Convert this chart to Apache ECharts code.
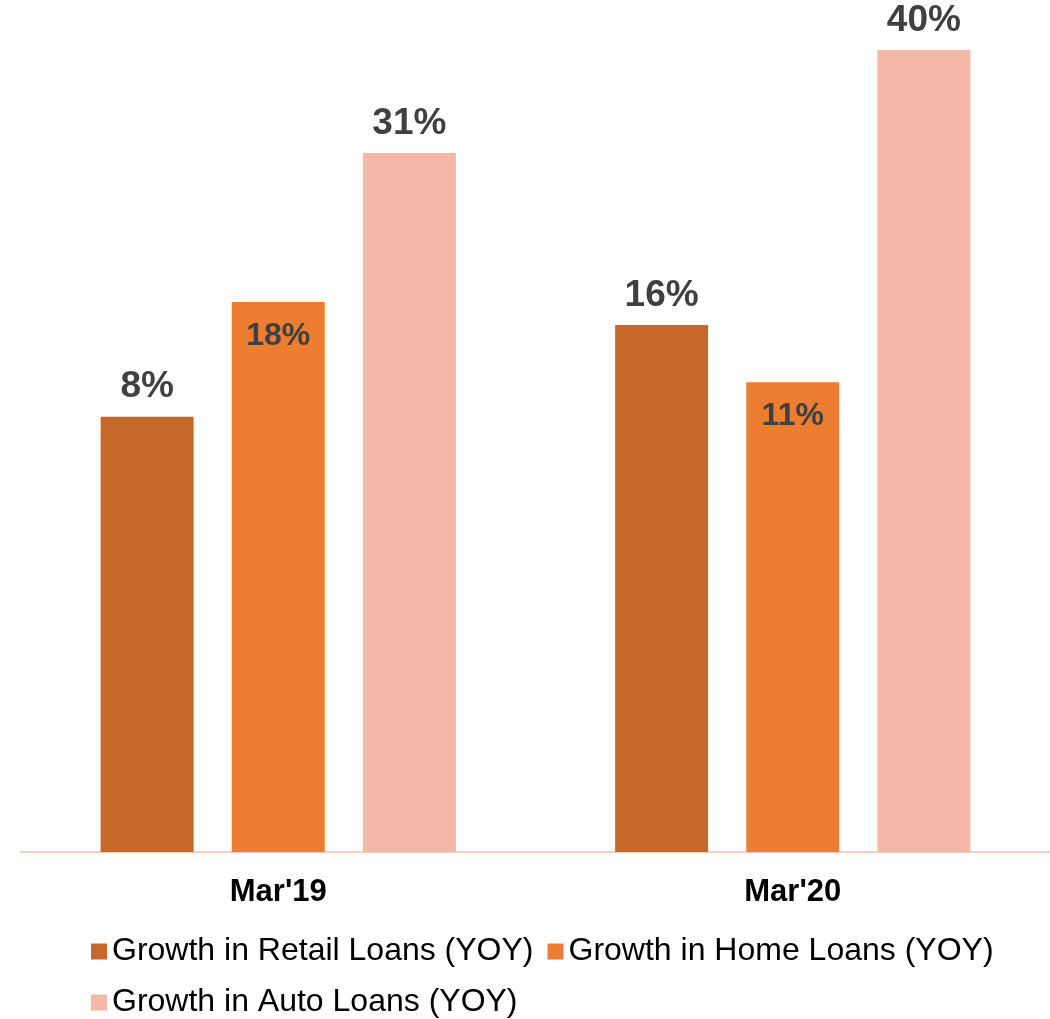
<!DOCTYPE html>
<html>
<head>
<meta charset="utf-8">
<script src="https://cdn.jsdelivr.net/npm/echarts@6/dist/echarts.min.js"></script>
<style>
html, body { margin: 0; padding: 0; background: #fff; }
#main { width: 1050px; height: 1019px; }
</style>
</head>
<body>
<div id="main"></div>
<script>
// categories and series values (%)
let categories = ["Mar'19", "Mar'20"];
let retailGrowth = [8, 16];
let homeGrowth = [18, 11];
let autoGrowth = [31, 40];

let seriesNames = [
    'Growth in Retail Loans (YOY)',
    'Growth in Home Loans (YOY)',
    'Growth in Auto Loans (YOY)'
];

let font = '"Liberation Sans", Arial, sans-serif';

let myChart,
option = {
    color: ['#C5682A', '#ED7D31', '#F4B8A6'],
    animation: false,
    grid: {
        left: 21,
        right: 0,
        top: 50,
        bottom: 167,
        outerBoundsMode: 'none'
    },
    legend: {
        left: 91,
        top: 933,
        width: 930,
        padding: 0,
        icon: 'rect',
        itemWidth: 16,
        itemHeight: 16,
        itemGap: 14,
        textStyle: {
            fontFamily: font,
            fontSize: 32,
            color: '#000',
            lineHeight: 37
        },
        data: seriesNames
    },
    xAxis: [
        {
            type: 'category',
            data: categories,
            axisLine: {
                onZero: false,
                lineStyle: { color: '#F8CDBD', width: 2 }
            },
            axisTick: { show: false },
            axisLabel: {
                margin: 25,
                fontFamily: font,
                fontSize: 31,
                fontWeight: 'bold',
                color: '#000'
            }
        }
    ],
    yAxis: [
        {
            type: 'value',
            min: -30,
            max: 40,
            startValue: -30,   // bars rise from the bottom of the plot
            show: false,
            splitLine: { show: false }
        }
    ],
    series: []
};

let values = [retailGrowth, homeGrowth, autoGrowth];
values.forEach(function (vals, i) {
    let inside = i === 1;
    option.series.push({
        name: seriesNames[i],
        type: 'bar',
        barWidth: 93,
        barGap: '41%',
        data: vals,
        label: {
            show: true,
            position: inside ? 'insideTop' : 'top',
            distance: inside ? 18 : 11,
            formatter: '{c}%',
            fontFamily: font,
            fontWeight: 'bold',
            fontSize: inside ? 32 : 37,
            color: '#404040'
        }
    });
});

myChart = echarts.init(document.getElementById('main'));
myChart.setOption(option);
</script>
</body>
</html>
